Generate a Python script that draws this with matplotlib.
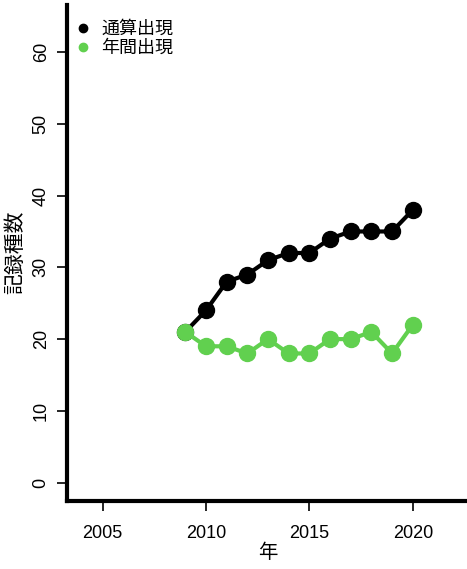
import matplotlib
matplotlib.use("Agg")
import matplotlib.pyplot as plt
from matplotlib.lines import Line2D

years = [2009, 2010, 2011, 2012, 2013, 2014, 2015, 2016, 2017, 2018, 2019, 2020]
cumulative = [21, 24, 28, 29, 31, 32, 32, 34, 35, 35, 35, 38]
annual = [21, 19, 19, 18, 20, 18, 18, 20, 20, 21, 18, 22]
series_labels = ["通算出現", "年間出現"]
xticks = [2005, 2010, 2015, 2020]
yticks = [0, 10, 20, 30, 40, 50, 60]

plt.rcParams['font.family'] = ['Liberation Sans', 'Noto Sans CJK JP', 'DejaVu Sans']

fig = plt.figure(figsize=(4.67, 5.69), dpi=100)
ax = fig.add_axes([67/467, 68/569, 402/467, 496/569])

green = "#61D04F"
ax.plot(years, cumulative, color="black", lw=3, marker="o", ms=11.5, zorder=3)
ax.plot(years, annual, color=green, lw=3, marker="o", ms=11.5, zorder=4)

ax.set_xlim(2003.28, 2022.72)
ax.set_ylim(-2.56, 66.56)
ax.set_xticks(xticks)
ax.set_yticks(yticks)
ax.set_xticklabels([str(t) for t in xticks], fontsize=13)
ax.set_yticklabels([str(t) for t in yticks], fontsize=13, rotation=90, va="center")
ax.tick_params(axis="both", length=7, width=1.2)
ax.tick_params(axis="x", pad=10)
ax.tick_params(axis="y", pad=5.5)

for s in ["top", "right"]:
    ax.spines[s].set_visible(False)
for s in ["left", "bottom"]:
    ax.spines[s].set_linewidth(3)

fig.text(268/467, 1 - 552/569, "年", fontsize=14, family=['Noto Sans CJK JP'],
         ha="center", va="center")
fig.text(15/467, 1 - 252/569, "記録種数", fontsize=15, family=['Noto Sans CJK JP'],
         ha="center", va="center", rotation=90)

handles = [Line2D([], [], color="black", marker="o", ls="none", ms=6),
           Line2D([], [], color=green, marker="o", ls="none", ms=6)]
leg = ax.legend(handles, series_labels, loc="upper left", frameon=False,
                bbox_to_anchor=(9/402, 1 - 15/496),
                prop={'family': ['Noto Sans CJK JP'], 'size': 13},
                handletextpad=0.6, labelspacing=0.05, borderaxespad=0.0,
                borderpad=0.0, handlelength=0.8)

fig.savefig("out.png", dpi=100)
